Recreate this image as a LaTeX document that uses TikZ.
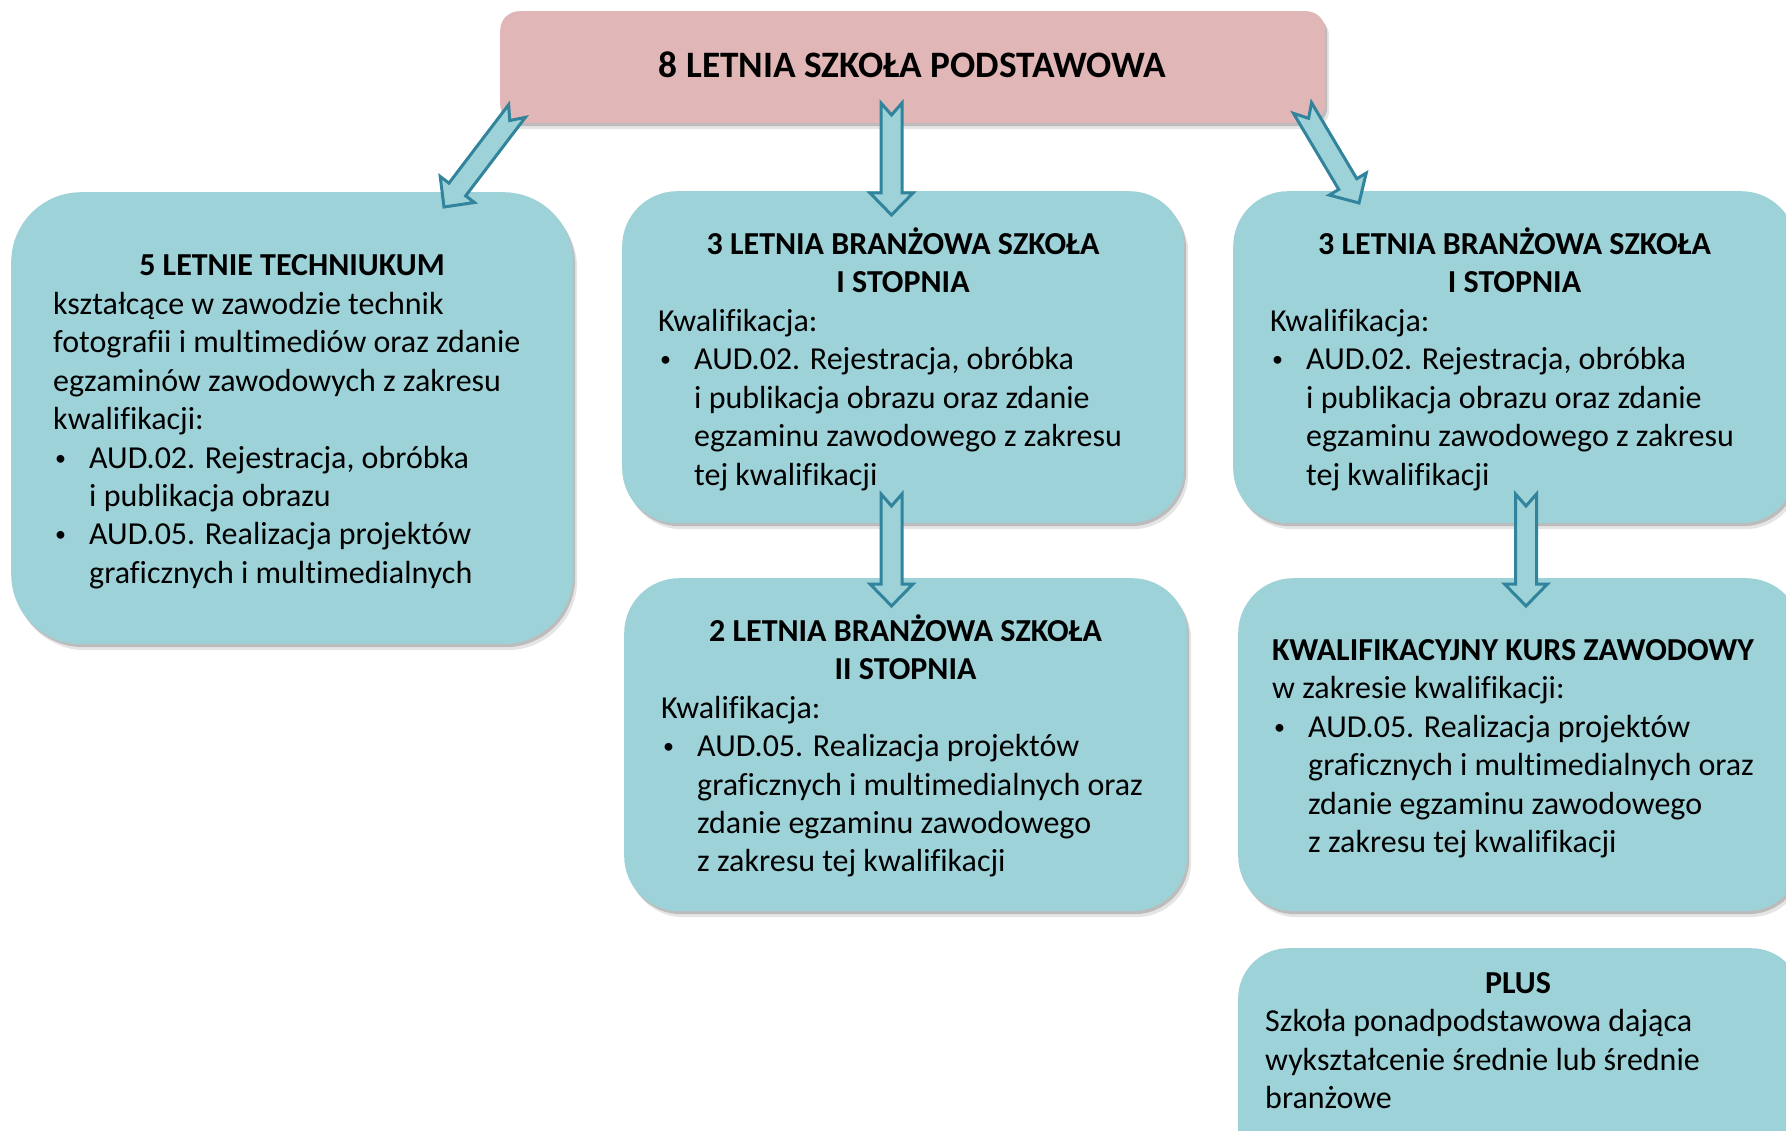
\documentclass[tikz,border=0pt]{standalone}
\usepackage{fontspec}
\setmainfont[Ligatures=NoCommon]{Carlito}
\usetikzlibrary{calc,shadows}
\definecolor{boxc}{HTML}{9DD2D8}
\definecolor{pinkc}{HTML}{E0B6B7}
\definecolor{arrc}{HTML}{31849B}
\tikzset{
  shadowed/.style={
    drop shadow={shadow xshift=2pt,shadow yshift=-3pt,opacity=.18,fill=black},
    drop shadow={shadow xshift=4pt,shadow yshift=-6pt,opacity=.10,fill=black}},
  boxnode/.style={shadowed, fill=boxc, draw=none, inner sep=0pt, anchor=north west},
  topnode/.style={shadowed, fill=pinkc, draw=none, inner sep=0pt, anchor=north west},
  txt/.style={inner sep=0pt, text=black, font=\fontsize{32}{38.4}\selectfont, anchor=base west},
  hd/.style={inner sep=0pt, text=black, font=\fontsize{32}{38.4}\selectfont\bfseries, anchor=base},
  barrow/.style={draw=arrc, fill=boxc, line width=3pt, line join=miter},
}
\newcommand\blockarrow[2]{%
  \draw[barrow] ($(#1)!10.5pt!90:(#2)$) -- ($(#2)!22pt!(#1)!10.5pt!-90:(#1)$)
    -- ($(#2)!22pt!(#1)!21.5pt!-90:(#1)$) -- (#2)
    -- ($(#2)!22pt!(#1)!21.5pt!90:(#1)$) -- ($(#2)!22pt!(#1)!10.5pt!90:(#1)$)
    -- ($(#1)!10.5pt!-90:(#2)$) -- ($(#1)!12pt!(#2)$) -- cycle;}
\newcommand\bul{\makebox[36pt][l]{\hspace{2pt}\raisebox{3pt}{\fontsize{22}{22}\selectfont•}}}
\newcommand\ind{\hspace*{36pt}}
\begin{document}
\begin{tikzpicture}[x=1pt,y=-1pt]
\useasboundingbox (0,0) rectangle (1786,1131);
\clip (0,0) rectangle (1786,1131);
% boxes
\node[topnode, minimum width=825pt, minimum height=112pt, rounded corners=19pt] (top) at (500,11) {};
\node[boxnode, minimum width=562pt, minimum height=452pt, rounded corners=70pt] (tech) at (11,192) {};
\node[boxnode, minimum width=562pt, minimum height=332pt, rounded corners=55pt] (bs1) at (622,191) {};
\node[boxnode, minimum width=563pt, minimum height=332pt, rounded corners=55pt] (bs1r) at (1233,191) {};
\node[boxnode, minimum width=563pt, minimum height=333pt, rounded corners=55pt] (bs2) at (624,578) {};
\node[boxnode, minimum width=563pt, minimum height=333pt, rounded corners=55pt] (kkz) at (1238,578) {};
\node[boxnode, minimum width=563pt, minimum height=250pt, rounded corners=50pt] (plus) at (1238,948) {};
% texts
\node[hd, font=\fontsize{37.3}{44}\selectfont\bfseries] (toptxt) at (912.5,78) {8 LETNIA SZKOŁA PODSTAWOWA};

\node[hd] (techhd) at (292,276) {5 LETNIE TECHNIUKUM};
\node[txt] (techtxt) at (53,314.5) {\parbox[t]{520pt}{\raggedright
kształcące w zawodzie technik\\
fotografii i multimediów oraz zdanie\\
egzaminów zawodowych z zakresu\\
kwalifikacji:\\
\bul AUD.02. Rejestracja, obróbka\\
\ind i publikacja obrazu\\
\bul AUD.05. Realizacja projektów\\
\ind graficznych i multimedialnych}};

\node[hd] (bs1hd) at (903,254.5) {\parbox[t]{540pt}{\centering 3 LETNIA BRANŻOWA SZKOŁA\\ I STOPNIA}};
\node[txt] (bs1txt) at (658,331.5) {\parbox[t]{520pt}{\raggedright
Kwalifikacja:\\
\bul AUD.02. Rejestracja, obróbka\\
\ind i publikacja obrazu oraz zdanie\\
\ind egzaminu zawodowego z zakresu\\
\ind tej kwalifikacji}};

\node[hd] (bs1rhd) at (1514.5,254.5) {\parbox[t]{540pt}{\centering 3 LETNIA BRANŻOWA SZKOŁA\\ I STOPNIA}};
\node[txt] (bs1rtxt) at (1270,331.5) {\parbox[t]{520pt}{\raggedright
Kwalifikacja:\\
\bul AUD.02. Rejestracja, obróbka\\
\ind i publikacja obrazu oraz zdanie\\
\ind egzaminu zawodowego z zakresu\\
\ind tej kwalifikacji}};

\node[hd] (bs2hd) at (905.5,641.5) {\parbox[t]{540pt}{\centering 2 LETNIA BRANŻOWA SZKOŁA\\ II STOPNIA}};
\node[txt] (bs2txt) at (661,718.3) {\parbox[t]{520pt}{\raggedright
Kwalifikacja:\\
\bul AUD.05. Realizacja projektów\\
\ind graficznych i multimedialnych oraz\\
\ind zdanie egzaminu zawodowego\\
\ind z zakresu tej kwalifikacji}};

\node[txt, font=\fontsize{32}{38.4}\selectfont\bfseries] (kkzhd) at (1272,660.5) {KWALIFIKACYJNY KURS ZAWODOWY};
\node[txt] (kkztxt) at (1272,698.9) {\parbox[t]{520pt}{\raggedright
w zakresie kwalifikacji:\\
\bul AUD.05. Realizacja projektów\\
\ind graficznych i multimedialnych oraz\\
\ind zdanie egzaminu zawodowego\\
\ind z zakresu tej kwalifikacji}};

\node[hd] (plushd) at (1518,993.5) {PLUS};
\node[txt] (plustxt) at (1265,1031.9) {\parbox[t]{520pt}{\raggedright
Szkoła ponadpodstawowa dająca\\
wykształcenie średnie lub średnie\\
branżowe}};

% arrows
\coordinate (a1t) at (517,111);   \coordinate (a1h) at (444,207);
\coordinate (a2t) at (891.5,103); \coordinate (a2h) at (891.5,215);
\coordinate (a3t) at (1302.5,108);\coordinate (a3h) at (1359,203);
\coordinate (a4t) at (891.5,494); \coordinate (a4h) at (891.5,606);
\coordinate (a5t) at (1526,494);  \coordinate (a5h) at (1526,606);
\blockarrow{a1t}{a1h}
\blockarrow{a2t}{a2h}
\blockarrow{a3t}{a3h}
\blockarrow{a4t}{a4h}
\blockarrow{a5t}{a5h}
\end{tikzpicture}
\end{document}
